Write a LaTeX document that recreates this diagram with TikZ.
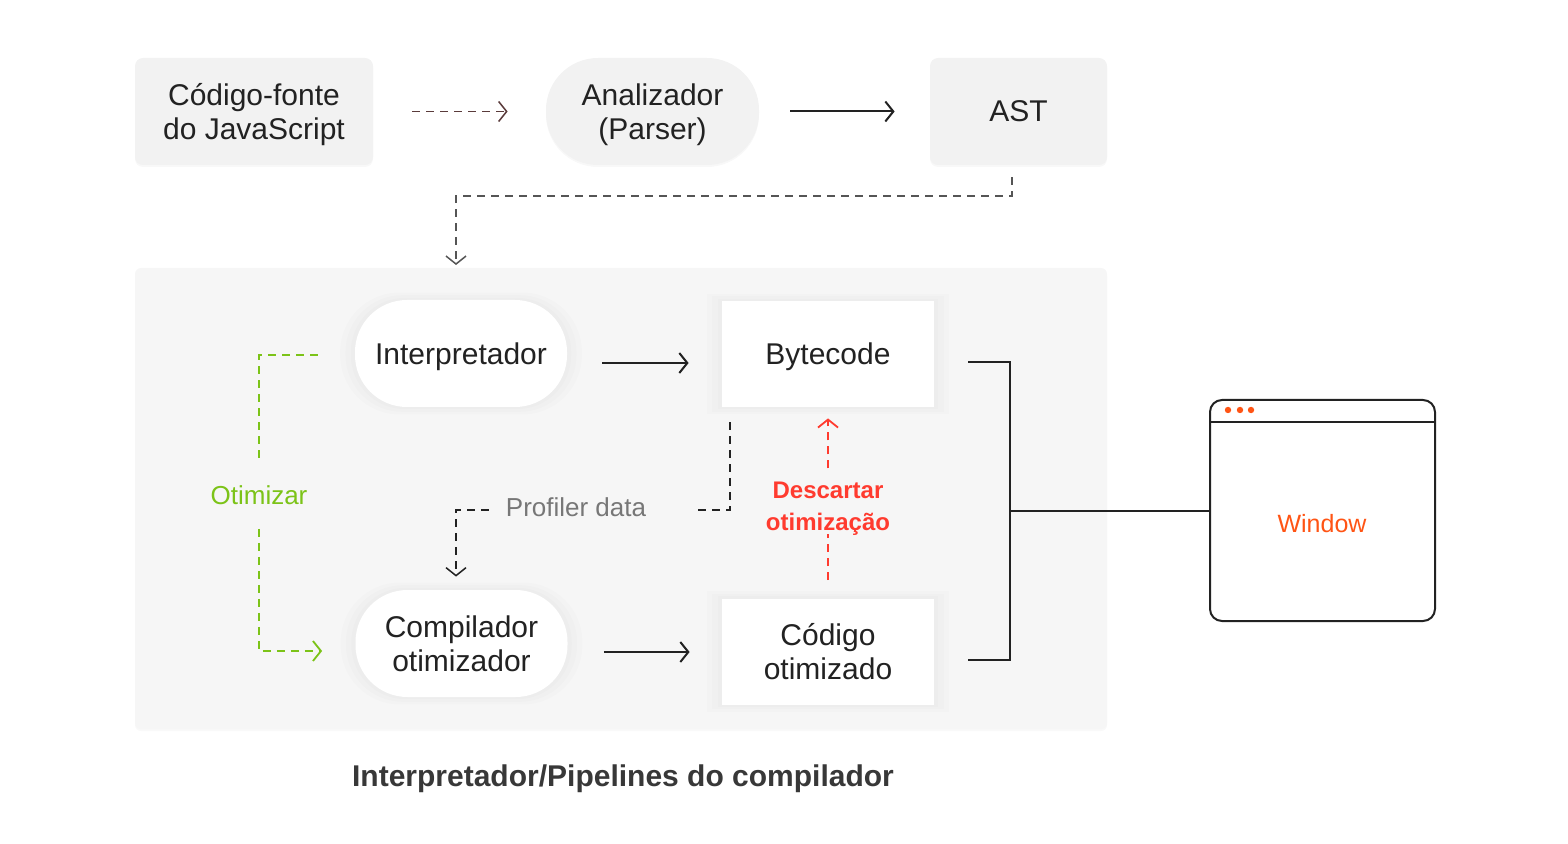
\documentclass[tikz,border=0pt]{standalone}
\usepackage{fontspec}
\setmainfont{Liberation Sans}
\usetikzlibrary{arrows.meta,shadows}
\definecolor{boxgray}{HTML}{F2F2F2}
\definecolor{panelgray}{HTML}{F6F6F6}
\definecolor{ink}{HTML}{222222}
\definecolor{otimgreen}{HTML}{7CC318}
\definecolor{discardred}{HTML}{FF3B2F}
\definecolor{winorange}{HTML}{FF5414}
\definecolor{profgray}{HTML}{777777}
\definecolor{srcdash}{HTML}{5A3B3B}
\definecolor{astdash}{HTML}{555555}
\begin{document}
\begin{tikzpicture}[x=0.5pt,y=-0.5pt,
  txt/.style={font=\fontsize{15pt}{17pt}\selectfont,text=ink,align=center,inner sep=0pt,text depth=0pt},
  topbox/.style={txt,fill=boxgray,rounded corners=4pt,minimum width=#1,minimum height=53.5pt,
    drop shadow={opacity=0.06,shadow xshift=0pt,shadow yshift=-1pt}},
  toppill/.style={txt,fill=boxgray,rounded corners=26pt,minimum width=106.5pt,minimum height=53.5pt,
    drop shadow={opacity=0.06,shadow xshift=0pt,shadow yshift=-1pt}},
  haze/.style={general shadow={fill=black,opacity=0.01,shadow scale=1.14},
    general shadow={fill=black,opacity=0.01,shadow scale=1.09},
    general shadow={fill=black,opacity=0.01,shadow scale=1.04}},
  pill/.style={txt,fill=white,rounded corners=26pt,minimum width=106pt,minimum height=53.5pt,haze},
  whitebox/.style={txt,fill=white,minimum width=106pt,minimum height=53pt,haze},
  panel/.style={fill=panelgray,rounded corners=3pt,minimum width=486pt,minimum height=230.5pt,inner sep=0pt,
    drop shadow={opacity=0.05,shadow xshift=0pt,shadow yshift=-1pt}},
  winbox/.style={draw=ink,line width=1pt,fill=white,rounded corners=6pt,minimum width=112.5pt,minimum height=110.5pt,inner sep=0pt},
  arr/.style={-{Straight Barb[length=4pt,width=10pt]}},
  conn/.style={draw=ink,line width=1pt},
  dashline/.style={line width=0.75pt,dash pattern=on 4pt off 3pt},
  srcline/.style={dashline,draw=srcdash},
  astline/.style={dashline,draw=astdash},
  profline/.style={dashline,draw=ink},
  otimline/.style={dashline,draw=otimgreen,line width=0.9pt},
  discard/.style={dashline,draw=discardred,line width=0.9pt},
  bracket/.style={draw=ink,line width=1pt}]
\useasboundingbox (0,0) rectangle (1568,844);
\node[panel] (pipe) at (621,498.5) {};
\node[topbox=119pt] (src) at (254,111.5) {Código-fonte\\do JavaScript};
\node[toppill] (parser) at (652.5,111.5) {Analizador\\(Parser)};
\node[topbox=88.5pt] (ast) at (1018.5,111.5) {AST};
\node[pill] (interp) at (461,353.5) {Interpretador};
\node[whitebox] (byte) at (828,354) {Bytecode};
\node[pill] (comp) at (461.5,643.5) {Compilador\\otimizador};
\node[whitebox] (code) at (828,651.5) {Código\\otimizado};
\node[winbox] (win) at (1322.5,510.5) {};
\node[font=\fontsize{12.5pt}{14pt}\selectfont,text=winorange,inner sep=0pt] (wintxt) at (1322,524) {Window};
\node[font=\fontsize{13pt}{15pt}\selectfont,text=otimgreen,inner sep=0pt] (otim) at (259,495) {Otimizar};
\node[font=\fontsize{13pt}{15pt}\selectfont,text=profgray,inner sep=0pt] (prof) at (576,507) {Profiler data};
\node[font=\fontsize{12pt}{16pt}\selectfont\bfseries,text=discardred,align=center,inner sep=0pt,text depth=0pt] (desc) at (828,506) {Descartar\\otimização};
\node[font=\fontsize{15pt}{17pt}\selectfont\bfseries,text=ink!90,inner sep=0pt,text depth=0pt] (title) at (623,776) {Interpretador/Pipelines do compilador};
\coordinate (astbend) at (1012,196);
\coordinate (pipein) at (456,268);
\coordinate (jn) at (1010,510.5);
\draw[srcline,arr,shorten <=19.5pt,shorten >=19pt] (src) -- (parser);
\draw[conn,arr,shorten <=15.5pt,shorten >=17.5pt] (parser) -- (ast);
\draw[astline,arr,shorten >=1.5pt] ([xshift=-3.25pt,yshift=-6pt]ast.south) -- (astbend) -| (pipein);
\draw[conn,arr,shorten <=17.5pt,shorten >=16.5pt] ([yshift=-4.75pt]interp.east) -- ([yshift=-4.75pt]byte.west |- interp.east);
\draw[conn,arr,shorten <=18pt,shorten >=16pt] ([yshift=-4.25pt]comp.east) -- ([yshift=-4.25pt]code.west |- comp.east);
\draw[otimline] ([xshift=-18.5pt,yshift=-0.75pt]interp.west) -| ([yshift=11pt]otim.north);
\draw[otimline,arr] ([yshift=-12pt]otim.south) |- ([xshift=-16.5pt,yshift=-3.75pt]comp.west);
\draw[profline] ([xshift=-49pt,yshift=-7.5pt]byte.south) |- ([xshift=24.5pt,yshift=-1.5pt]prof.east);
\draw[profline,arr] ([xshift=-8.5pt,yshift=-1.5pt]prof.west) -| ([xshift=-2.75pt,yshift=6.5pt]comp.north);
\draw[discard,shorten <=9pt,shorten >=1.5pt] (code.north) -- (desc.south);
\draw[discard,arr,shorten <=6.5pt,shorten >=5.5pt] (desc.north) -- (byte.south);
\draw[bracket] ([xshift=17pt,yshift=-4pt]byte.east) -| (jn) |- ([xshift=17pt,yshift=-4pt]code.east);
\draw[bracket] (jn) -- (win.west);
\draw[bracket] ([yshift=-11.5pt]win.north west) -- ([yshift=-11.5pt]win.north east);
\fill[winorange] ([xshift=9.5pt,yshift=-5.5pt]win.north west) circle (1.6pt)
  ([xshift=15.5pt,yshift=-5.5pt]win.north west) circle (1.6pt)
  ([xshift=21pt,yshift=-5.5pt]win.north west) circle (1.6pt);
\end{tikzpicture}
\end{document}
